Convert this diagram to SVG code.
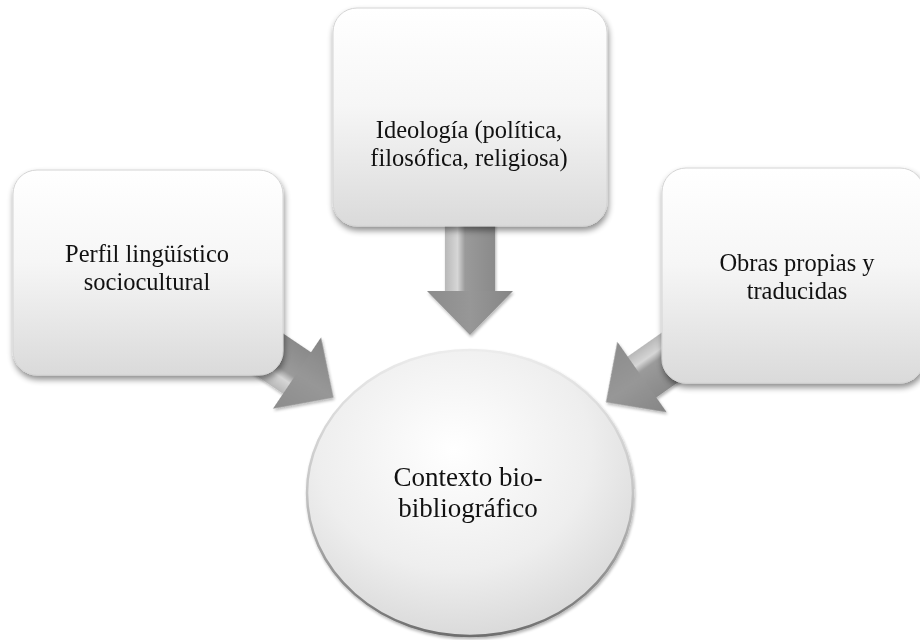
<svg xmlns="http://www.w3.org/2000/svg" width="920" height="640" viewBox="0 0 920 640">
  <style>
    .lbl { font-family: "Liberation Serif", "Times New Roman", serif; font-size: 24.5px; fill: #111; text-anchor: middle; }
    .lblc { font-family: "Liberation Serif", "Times New Roman", serif; font-size: 27px; fill: #111; text-anchor: middle; }
    .box { fill: url(#boxGrad); stroke: #d4d4d4; stroke-width: 1; filter: url(#shadow); }
    .shaft { fill: url(#shaftGrad); }
    .head { fill: url(#headGrad); }
  </style>
  <defs>
    <linearGradient id="boxGrad" x1="0" y1="0" x2="0" y2="1">
      <stop offset="0" stop-color="#ffffff"/>
      <stop offset="0.45" stop-color="#f6f6f6"/>
      <stop offset="1" stop-color="#dadada"/>
    </linearGradient>
    <radialGradient id="circGrad" cx="0.45" cy="0.35" r="0.7">
      <stop offset="0" stop-color="#ffffff"/>
      <stop offset="0.6" stop-color="#eeeeee"/>
      <stop offset="1" stop-color="#d6d6d6"/>
    </radialGradient>
    <linearGradient id="rimGrad" x1="0" y1="0" x2="0" y2="1">
      <stop offset="0" stop-color="#ececec"/>
      <stop offset="0.5" stop-color="#c4c4c4"/>
      <stop offset="1" stop-color="#6e6e6e"/>
    </linearGradient>
    <linearGradient id="shaftGrad" x1="0" y1="1" x2="0" y2="0">
      <stop offset="0" stop-color="#b8b8b8"/>
      <stop offset="0.25" stop-color="#d6d6d6"/>
      <stop offset="0.4" stop-color="#9a9a9a"/>
      <stop offset="1" stop-color="#8a8a8a"/>
    </linearGradient>
    <linearGradient id="headGrad" x1="0" y1="1" x2="0" y2="0">
      <stop offset="0" stop-color="#8c8c8c"/>
      <stop offset="0.5" stop-color="#979797"/>
      <stop offset="1" stop-color="#858585"/>
    </linearGradient>
    <filter id="shadow" x="-10%" y="-10%" width="125%" height="130%">
      <feGaussianBlur in="SourceAlpha" stdDeviation="3"/>
      <feOffset dx="1" dy="4" result="b"/>
      <feComponentTransfer><feFuncA type="linear" slope="0.45"/></feComponentTransfer>
      <feMerge><feMergeNode/><feMergeNode in="SourceGraphic"/></feMerge>
    </filter>
    <filter id="ashadow" x="-20%" y="-20%" width="140%" height="140%">
      <feGaussianBlur in="SourceAlpha" stdDeviation="1.5"/>
      <feOffset dx="1" dy="2"/>
      <feComponentTransfer><feFuncA type="linear" slope="0.3"/></feComponentTransfer>
      <feMerge><feMergeNode/><feMergeNode in="SourceGraphic"/></feMerge>
    </filter>
    <g id="arrow">
      <rect class="shaft" x="-75" y="-25" width="76" height="50"/>
      <polygon class="head" points="0,-43 44,0 0,43"/>
    </g>
  </defs>

  <rect width="920" height="640" fill="#ffffff"/>

  <g id="connectors" filter="url(#ashadow)">
    <use href="#arrow" transform="translate(470,291) rotate(90)"/>
    <use href="#arrow" transform="translate(297,373) rotate(34)"/>
    <use href="#arrow" transform="translate(642,377) rotate(145)"/>
  </g>

  <g id="node-perfil">
    <rect class="box" x="13" y="170" width="270" height="205" rx="24"/>
    <text class="lbl" x="147" y="262">Perfil lingüístico</text>
    <text class="lbl" x="147" y="290">sociocultural</text>
  </g>

  <g id="node-ideologia">
    <rect class="box" x="333" y="8" width="274" height="218" rx="24"/>
    <text class="lbl" x="469" y="138">Ideología (política,</text>
    <text class="lbl" x="469" y="166">filosófica, religiosa)</text>
  </g>

  <g id="node-obras">
    <rect class="box" x="662" y="168" width="262" height="215" rx="24"/>
    <text class="lbl" x="797" y="271">Obras propias y</text>
    <text class="lbl" x="797" y="299">traducidas</text>
  </g>

  <g id="node-contexto">
    <ellipse cx="470" cy="493" rx="163" ry="143" fill="url(#circGrad)" stroke="url(#rimGrad)" stroke-width="2.5" filter="url(#ashadow)"/>
    <text class="lblc" x="468" y="486">Contexto bio-</text>
    <text class="lblc" x="468" y="517">bibliográfico</text>
  </g>
</svg>
